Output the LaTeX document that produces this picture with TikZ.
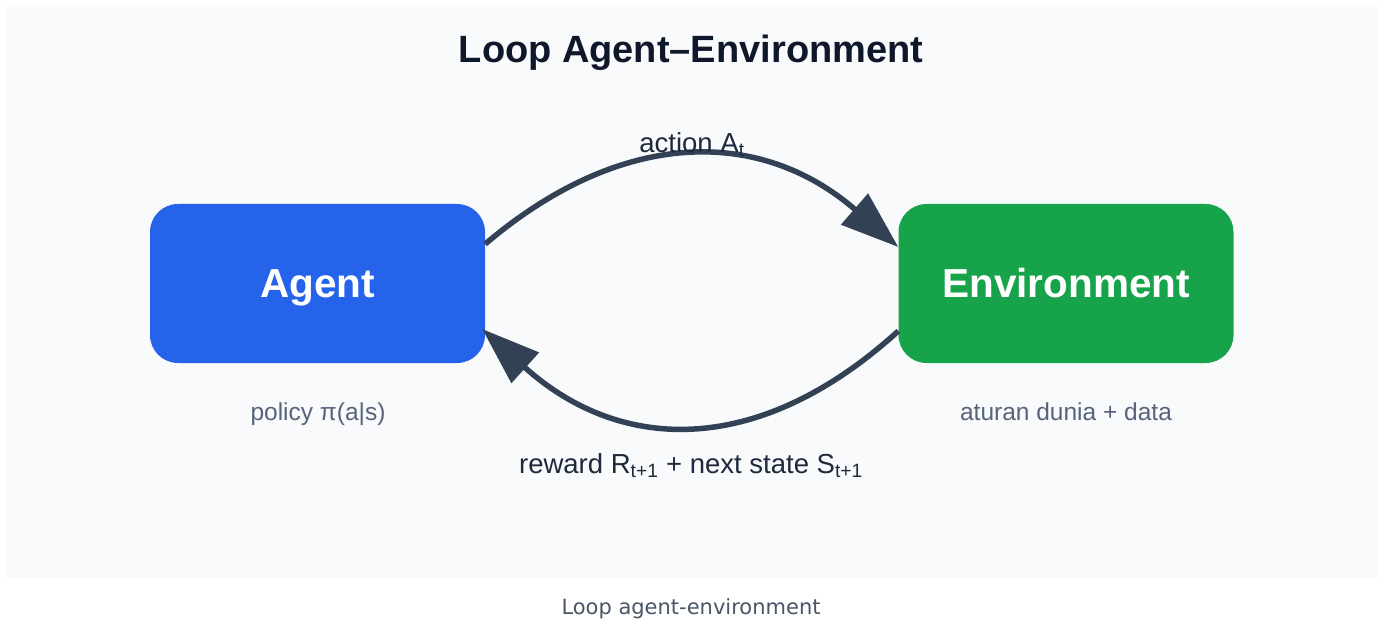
\documentclass[tikz,border=0pt]{standalone}
\usepackage{fontspec}
\setmainfont{Liberation Sans}
\newfontfamily\capfont{DejaVu Sans}
\usetikzlibrary{arrows.meta}
\definecolor{panel}{HTML}{F8FAFC}
\definecolor{agentblue}{HTML}{2563EB}
\definecolor{envgreen}{HTML}{16A34A}
\definecolor{titlecol}{HTML}{0F172A}
\definecolor{labelcol}{HTML}{1E293B}
\definecolor{arrowcol}{HTML}{334155}
\definecolor{subcol}{HTML}{56637A}
\definecolor{capcol}{HTML}{4A5568}
\tikzset{
  box/.style={rounded corners=28bp, minimum width=335bp, minimum height=159bp, inner sep=0pt,
    text height=32bp, text depth=3.6bp,
    text=white, font=\fontsize{40.5bp}{48bp}\selectfont\bfseries},
  flow/.style={draw=arrowcol, line width=5.5bp, -{Triangle[length=58bp,width=40bp]}},
  edgelabel/.style={text=labelcol, font=\fontsize{27.5bp}{32bp}\selectfont, anchor=base, inner sep=0pt},
  sublabel/.style={text=subcol, font=\fontsize{24.5bp}{30bp}\selectfont, anchor=base, inner sep=0pt}
}
\begin{document}
\begin{tikzpicture}[x=1bp,y=-1bp]
\useasboundingbox (0,0) rectangle (1380,619);
\fill[white] (0,0) rectangle (1380,619);
\fill[panel] (7,5) rectangle (1377,578);
\node[text=titlecol, font=\fontsize{38bp}{44bp}\selectfont\bfseries, anchor=base, inner sep=0pt] (title) at (691,63) {Loop Agent–Environment};
\node[box, fill=agentblue] (agent) at (317.5,283.5) {Agent};
\node[box, fill=envgreen] (env) at (1066,283.5) {Environment};
\coordinate (a1) at ([yshift=39.5bp]agent.east);
\coordinate (e1) at ([yshift=36.5bp]env.west);
\coordinate (e2) at ([yshift=-47.5bp]env.west);
\coordinate (a2) at ([yshift=-45.5bp,xshift=-3bp]agent.east);
\draw[flow] (a1) .. controls (623,127) and (761,128) .. (e1);
\draw[flow] (e2) .. controls (761,456) and (622,455) .. (a2);
\node[edgelabel] (act) at (692,153) {action A\textsubscript{t}};
\node[edgelabel] (rew) at (691,473) {reward R\textsubscript{t+1} + next state S\textsubscript{t+1}};
\node[sublabel] (pol) at (318,420) {policy π(a|s)};
\node[sublabel] (rule) at (1066,420) {aturan dunia + data};
\node[text=capcol, font=\capfont\fontsize{21bp}{26bp}\selectfont, anchor=base, inner sep=0pt] (cap) at (691,614) {Loop agent-environment};
\end{tikzpicture}
\end{document}
